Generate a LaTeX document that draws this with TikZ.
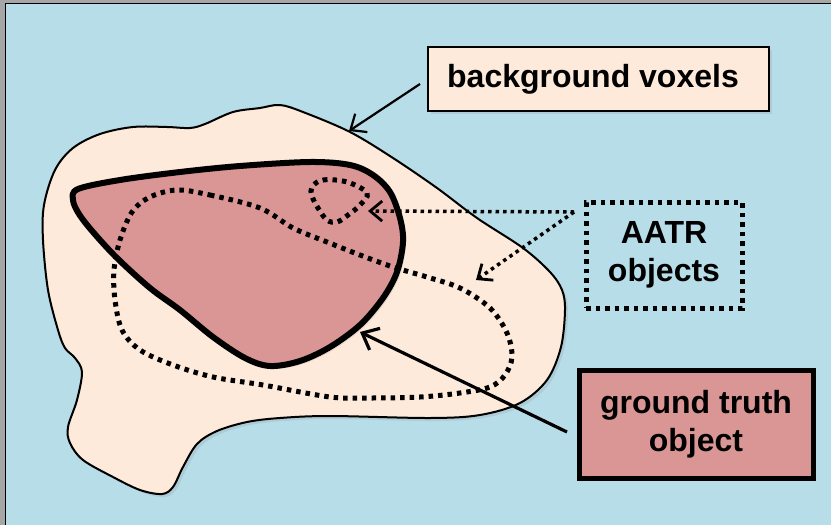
\documentclass[tikz,border=0pt]{standalone}
\usepackage{fontspec}
\setmainfont{Liberation Sans}
\usetikzlibrary{arrows.meta,shadows}
\definecolor{bgblue}{HTML}{B7DDE8}
\definecolor{peach}{HTML}{FDEADA}
\definecolor{gtpink}{HTML}{D99694}
\definecolor{framegray}{HTML}{A6A6A6}
\begin{document}
\begin{tikzpicture}[x=1pt,y=-1pt,
  lbl/.style={font=\fontsize{32}{38}\selectfont\bfseries, align=center, inner sep=0pt},
  shad/.style={drop shadow={opacity=0.18,shadow xshift=3pt,shadow yshift=-3pt}},
  blobline/.style={draw=black, line width=2pt, fill=peach},
  gtline/.style={draw=black, line width=6pt, fill=gtpink, line join=round},
  aatrline/.style={draw=black, line width=5pt, dash pattern=on 4.5pt off 5pt},
  aatrarrow/.style={draw=black, line width=3.5pt, dash pattern=on 3.5pt off 4pt, -{Straight Barb[length=12pt,width=20pt,line width=2.8pt]}},
  solidarrow/.style={draw=black, line width=2.2pt, -{Straight Barb[length=13pt,width=22pt]}},
  gtarrow/.style={draw=black, line width=3.2pt, -{Straight Barb[length=14pt,width=24pt]}}
]
\useasboundingbox (0,0) rectangle (831,525);
\fill[framegray] (0,0) rectangle (831,525);
\fill[bgblue] (5,3) rectangle (831,525);
\draw[black, line width=1.5pt] (5.5,525) -- (5.5,3.5) -- (831,3.5);

% background blob
\path[blobline, shad] plot[smooth cycle, tension=0.55] coordinates {
 (260,108) (280,105) (303,112) (350,132) (393,158) (437,188) (477,218) (523,248)
 (550,272) (562,290) (565,310) (561,347) (547,380) (520,403) (480,415) (430,418)
 (330,416) (280,418) (247,422) (217,431) (197,444) (183,467) (173,487) (162,494)
 (140,490) (113,477) (83,460) (70,443) (68,427) (77,400) (82,372) (75,358)
 (65,348) (58,330) (48,290) (43,240) (44,205) (55,170) (73,148) (100,134)
 (133,127) (167,127) (190,128) (205,124) (233,112)};

% ground truth object
\path[gtline, shad] plot[smooth cycle, tension=0.55] coordinates {
 (78,189) (120,180) (180,172) (240,166) (310,162) (350,165) (373,175) (390,192)
 (400,218) (403,242) (397,272) (383,298) (360,325) (330,347) (300,361) (270,366)
 (245,358) (213,337) (180,310) (150,288) (117,258) (93,232) (79,214) (73,200)};

% AATR objects (dotted)
\path[aatrline] plot[smooth cycle, tension=0.55] coordinates {
 (177,190) (210,195) (260,208) (293,228) (327,242) (360,255) (393,267) (427,277)
 (460,288) (490,308) (507,333) (512,357) (505,375) (490,387) (460,393) (420,397)
 (370,398) (330,397) (263,385) (213,377) (173,365) (140,350) (122,330) (115,300)
 (114,270) (120,240) (132,212) (150,197)};
\path[aatrline] plot[smooth cycle, tension=0.6] coordinates {
 (312,187) (323,180) (347,182) (367,193) (360,205) (348,215) (337,222) (327,220)
 (318,208) (312,196)};

% boxes
\node[lbl, draw=black, line width=2.5pt, fill=peach, minimum width=341pt, minimum height=64pt, shad] (bv) at (598.5,79) {};
\node[lbl] (bvtext) at (593,79) {background voxels};
\node[lbl, aatrline, fill=bgblue, minimum width=156pt, minimum height=106pt] (aatr) at (664,255) {AATR\\objects};
\node[lbl, draw=black, line width=5pt, fill=gtpink, minimum width=234pt, minimum height=108pt, shad] (gt) at (696,424) {ground truth\\object};

% connector endpoints
\coordinate (bvs) at (420,84);
\coordinate (bvt) at (349,131);
\coordinate (aas) at (574,212);
\coordinate (aat1) at (368,211);
\coordinate (aat2) at (476,280);
\coordinate (gts) at (567,432);
\coordinate (gtt) at (360,332);

\draw[solidarrow] (bvs) -- (bvt);
\draw[aatrarrow] (aas) -- (aat1);
\draw[aatrarrow] (aas) -- (aat2);
\draw[gtarrow] (gts) -- (gtt);
\end{tikzpicture}
\end{document}
